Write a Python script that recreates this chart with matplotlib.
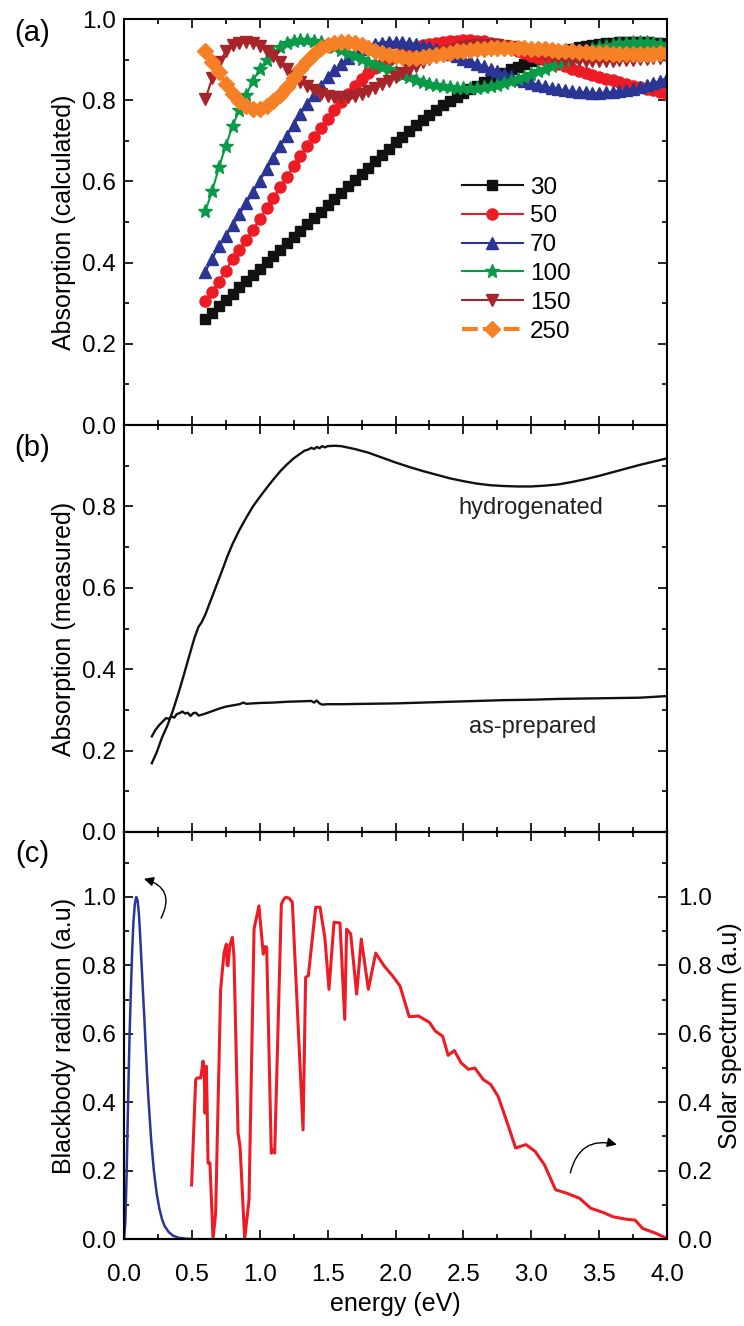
import numpy as np
import matplotlib
matplotlib.use("Agg")
import matplotlib.pyplot as plt
from matplotlib.ticker import MultipleLocator

plt.rcParams['font.family'] = ['Liberation Sans', 'DejaVu Sans']

# ---------------- Panel (a): calculated absorption ----------------
energy_calc = np.round(np.linspace(0.6, 4.0, 69), 2)
thickness_labels = ['30', '50', '70', '100', '150', '250']

abs_30 = [0.261, 0.277, 0.292, 0.308, 0.323, 0.339, 0.354, 0.370, 0.385, 0.401,
          0.417, 0.432, 0.448, 0.463, 0.479, 0.494, 0.510, 0.525, 0.541, 0.556,
          0.572, 0.588, 0.603, 0.619, 0.634, 0.650, 0.665, 0.681, 0.696,
          0.710, 0.724, 0.738, 0.751, 0.764, 0.776, 0.787, 0.798, 0.808, 0.818,
          0.827, 0.836, 0.845, 0.853, 0.861, 0.868, 0.876, 0.883, 0.890, 0.896,
          0.902, 0.908, 0.913, 0.918, 0.922, 0.926, 0.930, 0.933, 0.936, 0.938,
          0.940, 0.942, 0.943, 0.944, 0.944, 0.944, 0.943, 0.942, 0.940, 0.938]
abs_50 = [0.306, 0.328, 0.353, 0.380, 0.409, 0.430, 0.455, 0.481, 0.507, 0.534,
          0.558, 0.585, 0.610, 0.638, 0.663, 0.686, 0.709, 0.731, 0.753, 0.775,
          0.795, 0.815, 0.834, 0.851, 0.866, 0.879, 0.890, 0.900, 0.909,
          0.917, 0.924, 0.930, 0.935, 0.939, 0.942, 0.944, 0.946, 0.947, 0.948,
          0.948, 0.947, 0.945, 0.942, 0.938, 0.933, 0.928, 0.922, 0.916, 0.910,
          0.905, 0.900, 0.894, 0.889, 0.884, 0.878, 0.873, 0.868, 0.863, 0.858,
          0.853, 0.849, 0.844, 0.840, 0.836, 0.832, 0.828, 0.824, 0.820, 0.816]
abs_70 = [0.378, 0.410, 0.440, 0.466, 0.492, 0.519, 0.546, 0.573, 0.601, 0.630,
          0.658, 0.686, 0.713, 0.740, 0.766, 0.791, 0.814, 0.836, 0.856, 0.874,
          0.890, 0.904, 0.916, 0.926, 0.934, 0.939, 0.942, 0.944, 0.944,
          0.943, 0.941, 0.938, 0.934, 0.930, 0.925, 0.920, 0.914, 0.908, 0.902,
          0.896, 0.890, 0.884, 0.877, 0.871, 0.865, 0.859, 0.853, 0.848, 0.843,
          0.838, 0.834, 0.830, 0.827, 0.824, 0.822, 0.820, 0.819, 0.818, 0.818,
          0.819, 0.820, 0.822, 0.825, 0.828, 0.832, 0.837, 0.842, 0.848, 0.855]
abs_100 = [0.528, 0.577, 0.635, 0.688, 0.737, 0.776, 0.813, 0.848, 0.876, 0.899,
           0.917, 0.931, 0.940, 0.946, 0.949, 0.949, 0.947, 0.943, 0.937, 0.930,
           0.923, 0.916, 0.909, 0.902, 0.895, 0.889, 0.883, 0.876, 0.869,
           0.862, 0.856, 0.850, 0.845, 0.841, 0.837, 0.834, 0.832, 0.831, 0.830,
           0.830, 0.831, 0.833, 0.835, 0.838, 0.842, 0.847, 0.852, 0.858, 0.864,
           0.871, 0.878, 0.885, 0.892, 0.900, 0.907, 0.914, 0.920, 0.925, 0.930,
           0.934, 0.937, 0.940, 0.942, 0.943, 0.943, 0.943, 0.941, 0.939, 0.936]
abs_150 = [0.803, 0.855, 0.893, 0.920, 0.935, 0.942, 0.943, 0.940, 0.933, 0.922,
           0.908, 0.893, 0.876, 0.860, 0.846, 0.834, 0.824, 0.816, 0.811, 0.808,
           0.807, 0.808, 0.811, 0.816, 0.823, 0.831, 0.839, 0.848, 0.857,
           0.866, 0.875, 0.884, 0.893, 0.901, 0.909, 0.916, 0.922, 0.927, 0.931,
           0.934, 0.936, 0.937, 0.937, 0.936, 0.934, 0.931, 0.928, 0.924, 0.920,
           0.916, 0.912, 0.908, 0.905, 0.902, 0.900, 0.898, 0.897, 0.896, 0.896,
           0.896, 0.897, 0.898, 0.899, 0.900, 0.901, 0.902, 0.903, 0.904, 0.905]
abs_250 = [0.922, 0.895, 0.869, 0.840, 0.815, 0.797, 0.785, 0.779, 0.779, 0.785,
           0.797, 0.813, 0.833, 0.855, 0.877, 0.897, 0.914, 0.928, 0.937, 0.942,
           0.944, 0.943, 0.940, 0.935, 0.929, 0.922, 0.916, 0.911, 0.908,
           0.906, 0.905, 0.905, 0.906, 0.908, 0.911, 0.914, 0.917, 0.920, 0.922,
           0.924, 0.926, 0.927, 0.928, 0.929, 0.929, 0.929, 0.929, 0.928, 0.927,
           0.926, 0.925, 0.924, 0.922, 0.921, 0.920, 0.919, 0.918, 0.917, 0.916,
           0.916, 0.915, 0.915, 0.915, 0.915, 0.915, 0.915, 0.915, 0.916, 0.916]

# ---------------- Panel (b): measured absorption ----------------
hydro_x = [0.205, 0.24, 0.28, 0.32, 0.36, 0.40, 0.44, 0.48, 0.52, 0.55, 0.57, 0.60,
           0.64, 0.68, 0.72, 0.76, 0.80, 0.85, 0.90, 0.95, 1.00, 1.05, 1.10, 1.15,
           1.20, 1.25, 1.30, 1.33, 1.36, 1.38, 1.40, 1.42, 1.44, 1.46, 1.48, 1.50,
           1.55, 1.60, 1.70, 1.80, 1.90, 2.00, 2.10, 2.20, 2.30, 2.40, 2.50, 2.60,
           2.70, 2.80, 2.90, 3.00, 3.10, 3.20, 3.30, 3.40, 3.50, 3.60, 3.70, 3.80,
           3.90, 4.00]
hydro_y = [0.169, 0.195, 0.232, 0.262, 0.298, 0.340, 0.385, 0.432, 0.478, 0.505, 0.514,
           0.535, 0.570, 0.605, 0.640, 0.676, 0.708, 0.742, 0.772, 0.800, 0.823, 0.845,
           0.866, 0.886, 0.903, 0.918, 0.930, 0.937, 0.940, 0.944, 0.941, 0.946, 0.943,
           0.948, 0.945, 0.948, 0.949, 0.948, 0.941, 0.932, 0.920, 0.908, 0.897, 0.887,
           0.878, 0.869, 0.862, 0.856, 0.852, 0.850, 0.849, 0.849, 0.851, 0.854, 0.860,
           0.867, 0.875, 0.884, 0.893, 0.902, 0.910, 0.918]
asprep_x = [0.205, 0.23, 0.26, 0.29, 0.31, 0.33, 0.35, 0.37, 0.39, 0.41, 0.43, 0.45,
            0.47, 0.49, 0.51, 0.53, 0.55, 0.57, 0.60, 0.65, 0.70, 0.75, 0.80, 0.85,
            0.88, 0.90, 1.00, 1.10, 1.20, 1.30, 1.38, 1.40, 1.42, 1.44, 1.46, 1.50,
            1.60, 1.80, 2.00, 2.20, 2.40, 2.60, 2.80, 3.00, 3.20, 3.40, 3.60, 3.80, 4.00]
asprep_y = [0.235, 0.250, 0.263, 0.273, 0.280, 0.278, 0.284, 0.281, 0.290, 0.292, 0.296,
            0.291, 0.293, 0.285, 0.292, 0.293, 0.286, 0.288, 0.291, 0.297, 0.303, 0.308,
            0.311, 0.314, 0.318, 0.315, 0.317, 0.318, 0.320, 0.321, 0.322, 0.318, 0.323,
            0.316, 0.313, 0.314, 0.314, 0.315, 0.316, 0.318, 0.320, 0.322, 0.324, 0.325,
            0.327, 0.328, 0.329, 0.330, 0.334]

# ---------------- Panel (c): blackbody and solar spectrum ----------------
bb_x = [0.0, 0.01, 0.02, 0.03, 0.04, 0.05, 0.06, 0.07, 0.08, 0.09, 0.10, 0.11, 0.12,
        0.13, 0.14, 0.15, 0.16, 0.17, 0.18, 0.19, 0.20, 0.22, 0.24, 0.26, 0.28, 0.30,
        0.33, 0.36, 0.40, 0.45, 0.50]
bb_y = [0.0, 0.05, 0.20, 0.40, 0.58, 0.72, 0.84, 0.93, 0.98, 1.00, 0.99, 0.95, 0.88,
        0.80, 0.72, 0.645, 0.56, 0.48, 0.41, 0.35, 0.29, 0.20, 0.135, 0.09, 0.058,
        0.037, 0.02, 0.01, 0.004, 0.001, 0.0]
sol_x = [0.498, 0.528, 0.540, 0.565, 0.572, 0.582, 0.590, 0.597, 0.606, 0.612, 0.619,
         0.633, 0.656, 0.675, 0.712, 0.737, 0.754, 0.760, 0.766, 0.780, 0.798, 0.810,
         0.840, 0.855, 0.889, 0.921, 0.958, 0.994, 1.026, 1.040, 1.051, 1.085, 1.100,
         1.110, 1.159, 1.175, 1.191, 1.215, 1.240, 1.319, 1.338, 1.358, 1.412, 1.444,
         1.480, 1.510, 1.547, 1.591, 1.626, 1.640, 1.670, 1.714, 1.748, 1.800, 1.854,
         1.915, 1.979, 2.033, 2.101, 2.169, 2.251, 2.293, 2.347, 2.388, 2.434, 2.483,
         2.538, 2.584, 2.647, 2.701, 2.756, 2.824, 2.885, 2.961, 3.029, 3.097, 3.179,
         3.261, 3.356, 3.438, 3.534, 3.602, 3.697, 3.766, 3.820, 3.916, 3.998]
sol_y = [0.158, 0.466, 0.471, 0.471, 0.490, 0.520, 0.500, 0.368, 0.505, 0.400, 0.222,
         0.222, 0.0, 0.076, 0.730, 0.838, 0.862, 0.800, 0.799, 0.860, 0.882, 0.828,
         0.310, 0.270, 0.0, 0.115, 0.906, 0.974, 0.833, 0.855, 0.853, 0.251, 0.260,
         0.251, 0.979, 0.992, 0.999, 0.997, 0.985, 0.319, 0.765, 0.770, 0.970, 0.970,
         0.880, 0.730, 0.926, 0.924, 0.642, 0.906, 0.892, 0.716, 0.877, 0.730, 0.836,
         0.799, 0.769, 0.740, 0.650, 0.652, 0.633, 0.608, 0.593, 0.537, 0.551, 0.515,
         0.496, 0.500, 0.466, 0.452, 0.417, 0.339, 0.266, 0.276, 0.256, 0.217, 0.144,
         0.134, 0.119, 0.090, 0.077, 0.065, 0.058, 0.055, 0.031, 0.017, 0.002]

# ---------------- Figure ----------------
fig = plt.figure(figsize=(7.44, 13.26), dpi=100)
L, W = 124 / 744, 543 / 744
H = 407 / 1326
ax_a = fig.add_axes([L, 1 - 425 / 1326, W, 406 / 1326])
ax_b = fig.add_axes([L, 1 - 832 / 1326, W, H])
ax_c = fig.add_axes([L, 1 - 1239 / 1326, W, H])

TICK_FS = 17.5
LABEL_FS = 18


def style_axis(ax, right=True):
    for s in ax.spines.values():
        s.set_linewidth(1.5)
    ax.xaxis.set_major_locator(MultipleLocator(0.5))
    ax.xaxis.set_minor_locator(MultipleLocator(0.25))
    ax.yaxis.set_minor_locator(MultipleLocator(0.1))
    ax.tick_params(which='both', direction='in', top=True, right=right,
                   width=1.2, labelsize=TICK_FS)
    ax.tick_params(which='major', length=6.5)
    ax.tick_params(which='minor', length=3.5)
    ax.tick_params(axis='y', pad=6)
    ax.tick_params(axis='x', pad=18)
    ax.set_xlim(0, 4.0)


# ----- (a)
series = [abs_30, abs_50, abs_70, abs_100, abs_150, abs_250]
colors = ['#111111', '#ED1C24', '#2B3593', '#0A9A48', '#A6252B', '#F58025']
markers = ['s', 'o', '^', '*', 'v', 'D']
msizes = [7, 8, 8.5, 10, 8.5, 8]
for vals, lab, c, m, ms in zip(series, thickness_labels, colors, markers, msizes):
    if lab == '250':
        ax_a.plot(energy_calc, vals, color=c, marker=m, ms=ms, lw=3.0,
                  ls=(0, (3.8, 1.2)), mec=c, mfc=c, label=lab)
    else:
        ax_a.plot(energy_calc, vals, color=c, marker=m, ms=ms, lw=1.5,
                  mec=c, mfc=c, label=lab)
style_axis(ax_a)
ax_a.set_ylim(0, 1.0)
ax_a.set_yticks([0.0, 0.2, 0.4, 0.6, 0.8, 1.0])
ax_a.tick_params(labelbottom=False)
ax_a.set_ylabel('Absorption (calculated)', fontsize=LABEL_FS, labelpad=4)
ax_a.legend(loc='upper left', bbox_to_anchor=(0.622, 0.612), frameon=False,
            fontsize=TICK_FS, numpoints=1, handlelength=2.5, handletextpad=0.3,
            labelspacing=0.28, borderpad=0, borderaxespad=0)

# ----- (b)
ax_b.plot(hydro_x, hydro_y, color='#111111', lw=1.7)
ax_b.plot(asprep_x, asprep_y, color='#111111', lw=1.7)
style_axis(ax_b)
ax_b.set_ylim(0, 1.0)
ax_b.set_yticks([0.0, 0.2, 0.4, 0.6, 0.8])
ax_b.tick_params(labelbottom=False)
ax_b.set_ylabel('Absorption (measured)', fontsize=LABEL_FS, labelpad=4)
ax_b.text(3.0, 0.795, 'hydrogenated', fontsize=17, ha='center', va='center', color='#222222')
ax_b.text(3.01, 0.259, 'as-prepared', fontsize=17, ha='center', va='center', color='#222222')

# ----- (c)
ax_c.plot(bb_x, bb_y, color='#2B3593', lw=1.8)
style_axis(ax_c, right=False)
ax_c.set_ylim(0, 1.19)
ax_c.set_yticks([0.0, 0.2, 0.4, 0.6, 0.8, 1.0])
ax_c.set_xlabel('energy (eV)', fontsize=LABEL_FS, labelpad=4)
ax_c.set_ylabel('Blackbody radiation (a.u)', fontsize=LABEL_FS, labelpad=4)
ax_c.xaxis.set_major_formatter(matplotlib.ticker.FormatStrFormatter('%.1f'))

ax_r = ax_c.twinx()
ax_r.plot(sol_x, sol_y, color='#ED1C24', lw=2.2)
ax_r.set_ylim(0, 1.19)
ax_r.set_yticks([0.0, 0.2, 0.4, 0.6, 0.8, 1.0])
ax_r.yaxis.set_minor_locator(MultipleLocator(0.1))
ax_r.tick_params(which='both', direction='in', right=True, width=1.2, labelsize=TICK_FS, pad=8)
ax_r.tick_params(which='major', length=6.5)
ax_r.tick_params(which='minor', length=3.5)
for s in ax_r.spines.values():
    s.set_linewidth(1.5)
ax_r.set_ylabel('Solar spectrum (a.u)', fontsize=LABEL_FS, labelpad=4)

# curved arrows
ax_c.annotate('', xy=(0.147, 1.053), xytext=(0.273, 0.938),
              arrowprops=dict(arrowstyle='-|>', connectionstyle='arc3,rad=0.6',
                              color='black', lw=1.0, mutation_scale=14,
                              shrinkA=0, shrinkB=0))
ax_c.annotate('', xy=(3.63, 0.276), xytext=(3.288, 0.193),
              arrowprops=dict(arrowstyle='-|>', connectionstyle='arc3,rad=-0.5',
                              color='black', lw=1.0, mutation_scale=14,
                              shrinkA=0, shrinkB=0))

# panel labels
for y_px, lab in [(33, '(a)'), (448, '(b)'), (854, '(c)')]:
    fig.text(32 / 744, 1 - y_px / 1326, lab, fontsize=21, ha='center', va='center')

fig.savefig('out.png', dpi=100)
